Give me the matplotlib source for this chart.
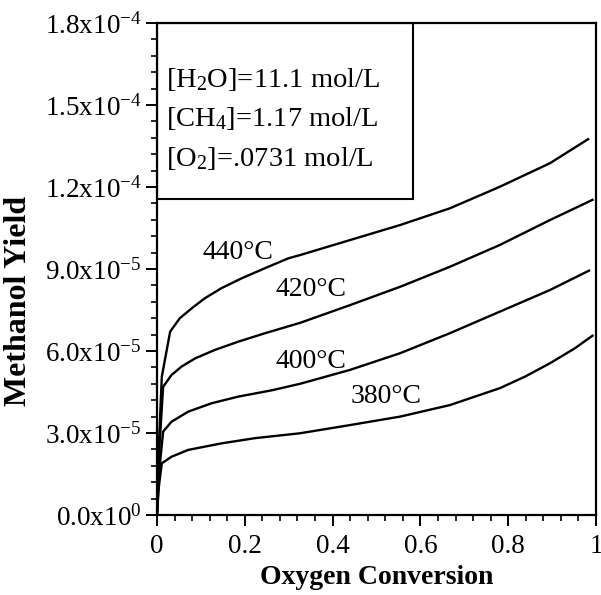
import numpy as np
import matplotlib
matplotlib.use("Agg")
import matplotlib.pyplot as plt
from matplotlib.patches import Rectangle
from matplotlib.ticker import MultipleLocator

plt.rcParams['font.family'] = 'Liberation Serif'
plt.rcParams['mathtext.fontset'] = 'custom'
plt.rcParams['mathtext.rm'] = 'Liberation Serif'
plt.rcParams['mathtext.it'] = 'Liberation Serif:italic'

# data (yield in units of 1e-5)
x380 = [0, 0.004, 0.011, 0.033, 0.071, 0.147, 0.223, 0.326, 0.440, 0.554, 0.667, 0.781, 0.838, 0.895, 0.952, 0.992]
y380 = [0, 1.0, 1.89, 2.13, 2.38, 2.62, 2.81, 2.99, 3.29, 3.60, 4.02, 4.64, 5.06, 5.55, 6.1, 6.56]

x400 = [0, 0.005, 0.014, 0.033, 0.071, 0.125, 0.185, 0.261, 0.326, 0.440, 0.554, 0.667, 0.781, 0.895, 0.984]
y400 = [0, 1.6, 3.05, 3.41, 3.78, 4.09, 4.33, 4.56, 4.80, 5.31, 5.92, 6.65, 7.44, 8.23, 8.94]

x420 = [0, 0.006, 0.014, 0.033, 0.056, 0.087, 0.132, 0.185, 0.246, 0.326, 0.440, 0.554, 0.667, 0.781, 0.895, 0.992]
y420 = [0, 2.6, 4.69, 5.12, 5.43, 5.73, 6.04, 6.34, 6.65, 7.03, 7.68, 8.35, 9.08, 9.88, 10.79, 11.53]

x440 = [0, 0.005, 0.011, 0.030, 0.052, 0.079, 0.109, 0.147, 0.193, 0.246, 0.299, 0.326, 0.440, 0.554, 0.667, 0.781, 0.895, 0.982]
y440 = [0, 2.8, 5.06, 6.71, 7.20, 7.56, 7.93, 8.30, 8.66, 9.03, 9.39, 9.51, 10.06, 10.61, 11.22, 12.01, 12.87, 13.75]

curve_labels = ["380°C", "400°C", "420°C", "440°C"]
label_pos = [(0.521, 4.33), (0.351, 5.6), (0.351, 8.25), (0.185, 9.62)]

box_lines = ["[H$_2$O]=11.1 mol/L", "[CH$_4$]=1.17 mol/L", "[O$_2$]=.0731 mol/L"]
box_y = [15.95, 14.5, 13.05]

yticks = [0, 3, 6, 9, 12, 15, 18]
ytick_labels = ["0.0x10$^0$", "3.0x10$^{-5}$", "6.0x10$^{-5}$", "9.0x10$^{-5}$",
                "1.2x10$^{-4}$", "1.5x10$^{-4}$", "1.8x10$^{-4}$"]
xticks = [0, 0.2, 0.4, 0.6, 0.8, 1]
xtick_labels = ["0", "0.2", "0.4", "0.6", "0.8", "1"]

fig = plt.figure(figsize=(6.01, 5.95), dpi=100)
ax = fig.add_axes([0.2612, 0.1345, 0.7305, 0.8268])

for xs, ys in [(x380, y380), (x400, y400), (x420, y420), (x440, y440)]:
    ax.plot(xs, np.array(ys) * 1e-5, color='black', lw=1.7, solid_joinstyle='round')

for lab, (lx, ly) in zip(curve_labels, label_pos):
    ax.text(lx, ly * 1e-5, lab, fontsize=20, ha='center', va='center')

ax.add_patch(Rectangle((0, 11.55e-5), 0.583, 18e-5 - 11.55e-5, fill=False,
                       edgecolor='black', lw=1.5, zorder=3))
for t, by in zip(box_lines, box_y):
    ax.text(0.02, by * 1e-5, t, fontsize=20.5, ha='left', va='center')

ax.set_xlim(0, 1)
ax.set_ylim(0, 18e-5)
ax.set_xticks(xticks)
ax.set_xticklabels(xtick_labels)
ax.set_yticks([v * 1e-5 for v in yticks])
ax.set_yticklabels(ytick_labels)
ax.xaxis.set_minor_locator(MultipleLocator(0.04))
ax.yaxis.set_minor_locator(MultipleLocator(0.6e-5))
ax.tick_params(which='major', direction='out', length=8, width=1.4, labelsize=19.5)
ax.tick_params(which='minor', direction='out', length=4, width=1.2)
ax.tick_params(axis='x', pad=6)
ax.tick_params(axis='y', pad=3)
for s in ax.spines.values():
    s.set_linewidth(1.6)

ax.set_xlabel("Oxygen Conversion", fontsize=20, fontweight='bold', labelpad=4)
ax.set_ylabel("Methanol Yield", fontsize=23, fontweight='bold')
ax.yaxis.set_label_coords(-0.282, 0.435)

fig.savefig("out.png", dpi=100)
